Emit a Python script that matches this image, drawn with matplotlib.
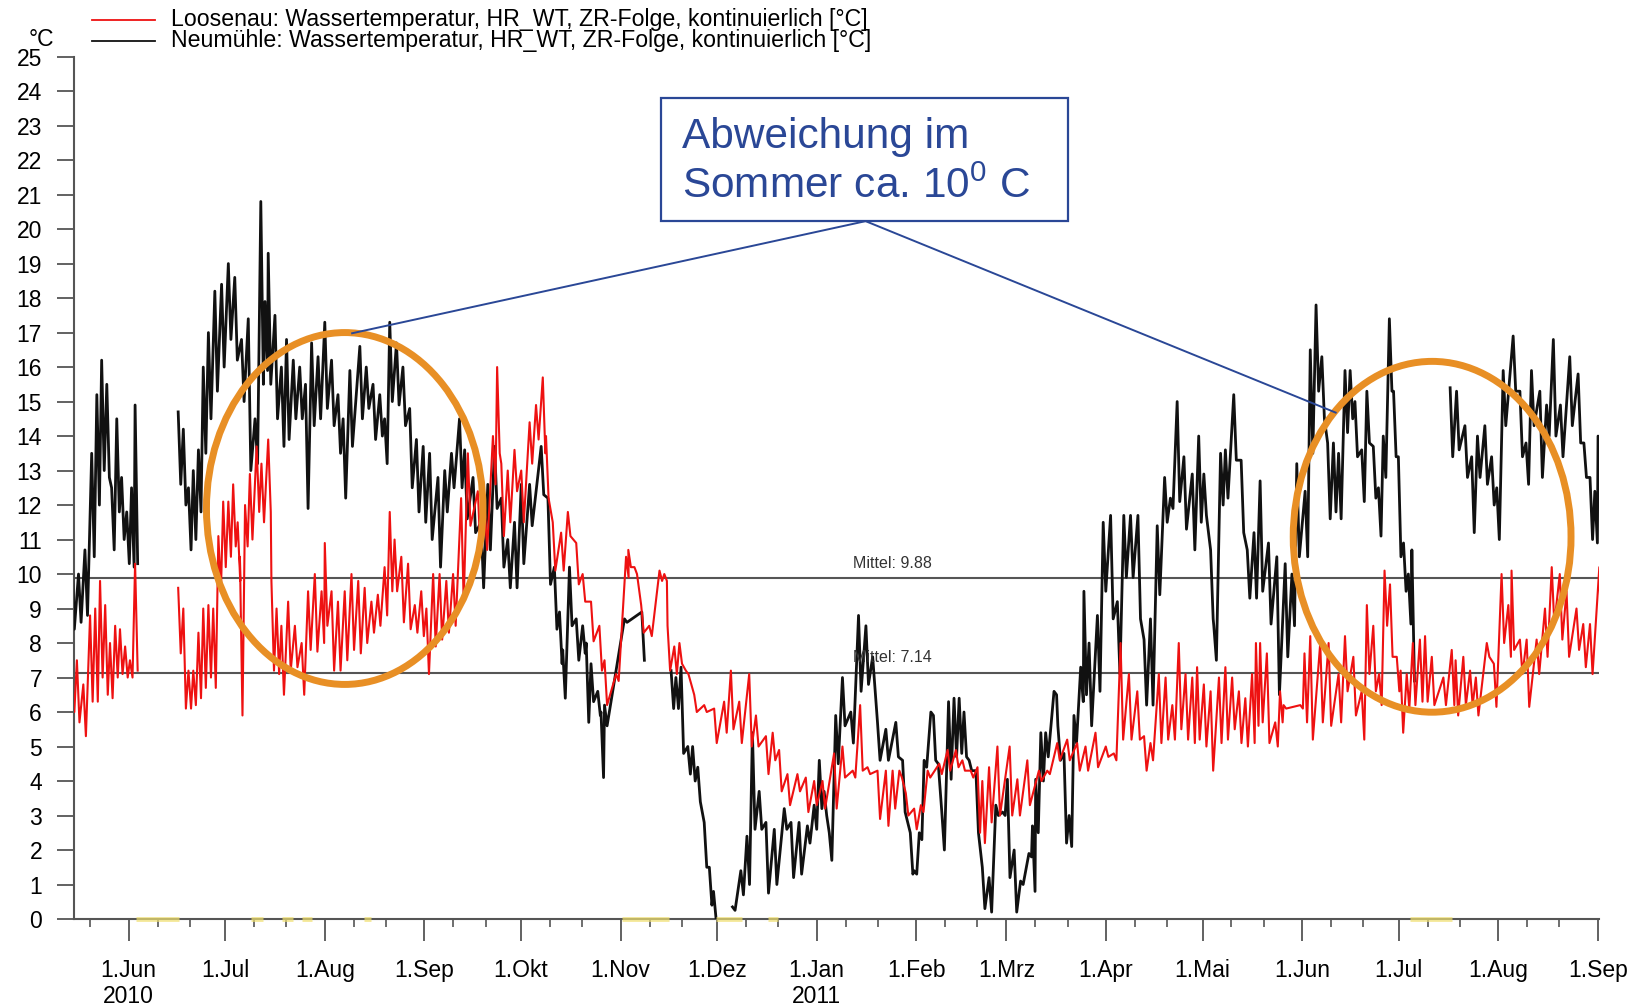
import numpy as np
import matplotlib
matplotlib.use("Agg")
import matplotlib.pyplot as plt
import matplotlib.dates as mdates
from matplotlib.patches import Ellipse, Rectangle
from matplotlib.lines import Line2D
import datetime as dt

plt.rcParams['font.family'] = ['Liberation Sans', 'DejaVu Sans']
plt.rcParams['mathtext.fontset'] = 'custom'
plt.rcParams['mathtext.rm'] = 'Liberation Sans'

NaN = float('nan')
BASE = dt.datetime(2010, 6, 1)          # day 0 of the day offsets below

# ---------------- data ----------------
# Neumühle (black): day offset from 1 Jun 2010, upper and lower value of the daily swing
neu_day = [-17.3, -15.2, -13.2, -11.1, -9.5, -8.0, -6.4, -4.9, -3.3, -1.8, -0.2, 1.3, 2.4, 9.0,
           15.8, 17.4, 19.0, 20.5, 22.1, 23.6, 25.2, 27.2, 29.3, 31.4, 33.4, 35.5, 37.6, 39.7,
           41.5, 42.8, 43.8, 45.9, 47.9, 49.5, 51.6, 53.6, 55.4, 57.3, 59.3, 61.4, 63.5, 65.5,
           67.1, 69.2, 72.3, 74.3, 76.4, 78.5, 80.0, 81.6, 83.7, 85.7, 87.8, 89.9, 92.0, 94.0,
           96.6, 98.7, 100.8, 103.3,
           104.9, 107.5, 110.0, 112.1, 114.2, 116.3, 118.3, 120.4, 122.5, 125.1, 128.7, 130.8,
           132.8, 134.4, 135.4, 137.5, 139.6, 141.6, 142.7, 144.2, 146.3, 147.3, 148.4, 154.6,
           160.0, 164.0,
           169.1, 170.6, 172.2, 174.3, 175.8, 177.4, 179.4, 181.0, 182.3, 185.0,
           188.2, 190.8, 192.7, 194.4, 196.5, 198.6, 201.2, 204.3, 206.4, 208.9, 211.5, 213.6,
           215.2, 216.7, 218.3, 220.3, 222.4,
           225.0, 227.4, 229.7, 231.8, 233.3, 235.9, 239.0, 241.1, 243.5, 244.7, 246.3, 247.8,
           249.9, 251.4, 253.3, 255.4, 257.1, 258.7, 260.2, 261.8, 263.9, 265.9, 268.0, 270.1,
           272.2, 273.7, 275.8, 277.8, 280.4, 281.5, 282.5, 284.1, 285.6, 288.2, 289.4, 291.3,
           292.9, 294.4, 296.5, 297.5, 299.1, 301.7, 303.5, 305.8, 307.9, 309.9, 312.0, 314.3,
           316.2, 318.2, 320.3, 322.6, 324.4, 326.5, 328.6, 331.2, 333.2, 334.8, 336.9, 337.9,
           340.0, 341.5, 344.1, 346.4, 348.3, 350.4,
           352.3, 354.9, 357.5, 360.1, 362.2, 363.7, 366.3, 367.9, 369.7, 371.5, 373.3, 375.1,
           376.7, 378.7, 380.3, 381.8, 383.9, 385.5, 387.5, 389.1, 390.6, 392.5, 393.8, 395.3,
           396.9, 398.4, 399.5, 405.0,
           411.4, 413.4, 416.0, 418.1, 419.9, 422.2, 424.3, 425.9, 427.9, 431.0, 433.1, 435.0,
           436.7, 439.3, 441.4, 443.5, 445.7, 448.6, 451.2, 453.0, 454.9, 456.4, 457.4]
neu_hi = [10.9, 10.0, 10.7, 13.5, 15.2, 16.2, 15.5, 12.5, 14.5, 12.8, 11.8, 12.5, 14.9, NaN,
          14.7, 14.2, 12.5, 13.0, 13.6, 16.0, 17.0, 18.2, 18.4, 19.0, 18.6, 16.8, 17.4, 14.5,
          20.8, 17.9, 19.3, 17.5, 16.0, 16.8, 16.2, 16.0, 15.5, 16.7, 16.3, 17.3, 16.2, 15.2,
          14.5, 15.9, 16.6, 16.0, 15.5, 15.2, 14.5, 17.3, 16.7, 16.0, 14.8, 13.9, 13.7, 13.5,
          12.8, 13.0, 13.5, 14.5,
          13.6, 12.8, 11.5, 12.6, 13.7, 12.2, 11.0, 11.5, 12.6, 12.6, 13.7, 12.2,
          10.2, 8.9, 7.8, 10.2, 8.7, 8.5, 8.0, 7.4, 6.6, 6.0, 6.2, 8.7,
          8.9, NaN,
          7.2, 7.0, 7.3, 5.0, 5.0, 4.4, 2.8, 1.5, 0.8, NaN,
          0.35, 1.4, 2.4, 5.4, 3.7, 2.8, 2.6, 3.2, 2.8, 2.8, 2.7, 3.3,
          4.6, 3.7, 2.5, 5.9, 7.0,
          6.0, 8.8, 8.5, 7.6, 5.7, 5.5, 5.7, 4.6, 2.5, 1.4, 2.5, 4.6,
          6.0, 4.6, 3.1, 6.3, 6.4, 6.4, 6.0, 4.6, 4.3, 1.5, 1.2, 3.3,
          3.1, 4.05, 2.0, 1.1, 1.9, 2.7, 4.05, 5.4, 5.4, 6.6, 5.6, 4.8,
          3.0, 5.9, 7.3, 9.5, 8.0, 8.8, 11.5, 11.7, 9.2, 11.7, 11.7, 11.7,
          8.1, 8.7, 11.4, 12.8, 12.2, 15.0, 13.4, 12.9, 14.0, 12.9, 10.7, 8.5,
          13.5, 13.6, 15.2, 13.3, 10.7, 11.2,
          12.7, 10.9, 10.5, 10.3, 10.0, 13.2, 12.4, 16.5, 17.8, 16.3, 13.8, 13.8,
          13.5, 15.9, 15.9, 15.0, 13.6, 15.3, 13.7, 12.5, 14.0, 17.4, 15.3, 13.4,
          10.9, 10.0, 10.7, NaN,
          15.4, 15.3, 14.3, 13.4, 14.0, 14.3, 13.4, 12.5, 15.9, 16.9, 15.3, 13.8,
          15.9, 15.3, 14.9, 16.8, 14.9, 16.3, 15.8, 13.8, 12.8, 12.4, 14.0]
neu_lo = [8.4, 8.6, 8.8, 10.5, 12.0, 13.0, 12.8, 10.7, 11.8, 11.0, 10.3, 10.2, 10.3, NaN,
          12.6, 12.0, 10.7, 11.0, 11.8, 13.5, 14.5, 15.3, 16.0, 16.8, 16.2, 15.0, 13.0, 13.2,
          15.5, 15.9, 15.5, 14.5, 13.7, 13.9, 14.5, 14.5, 11.9, 14.3, 14.5, 14.8, 14.3, 13.5,
          12.2, 13.7, 14.5, 14.8, 13.9, 14.0, 13.2, 15.0, 14.9, 14.3, 12.5, 11.8, 11.5, 11.0,
          10.2, 11.8, 12.5, 12.5,
          11.6, 11.2, 9.6, 10.7, 11.9, 10.2, 9.6, 9.6, 10.3, 11.4, 12.3, 9.7,
          8.4, 7.4, 6.4, 8.5, 7.5, 7.7, 5.7, 6.3, 5.9, 4.1, 5.6, 8.6,
          7.5, NaN,
          6.1, 6.1, 4.8, 4.2, 4.0, 3.4, 1.5, 0.4, 0.0, NaN,
          0.25, 0.7, 1.0, 2.6, 2.6, 0.75, 1.0, 2.6, 1.2, 1.3, 2.2, 2.6,
          3.2, 3.0, 1.7, 4.5, 5.6,
          5.1, 6.6, 6.8, 6.6, 4.6, 4.6, 4.7, 3.1, 1.3, 1.3, 2.3, 4.4,
          5.9, 4.5, 2.0, 4.05, 4.7, 4.8, 4.7, 4.3, 2.5, 0.3, 0.2, 3.0,
          3.0, 1.2, 0.2, 1.0, 1.8, 0.8, 2.5, 4.0, 4.7, 6.5, 4.6, 2.2,
          2.1, 5.1, 6.3, 6.5, 5.6, 6.6, 9.5, 8.7, 7.1, 9.9, 9.9, 8.7,
          6.2, 6.2, 9.4, 11.5, 11.9, 12.1, 11.3, 10.7, 11.5, 11.7, 8.7, 7.5,
          12.0, 12.2, 13.3, 11.2, 9.3, 9.3,
          9.5, 8.55, 6.5, 7.6, 8.5, 10.5, 10.5, 13.5, 15.3, 14.5, 11.6, 11.8,
          11.6, 14.1, 14.5, 13.4, 12.1, 13.8, 12.2, 11.1, 12.8, 15.3, 13.4, 10.5,
          9.5, 8.55, 6.9, NaN,
          13.4, 13.6, 12.8, 11.2, 12.8, 12.6, 12.0, 11.0, 14.3, 15.3, 13.4, 12.6,
          14.3, 12.8, 14.0, 14.0, 13.4, 14.3, 13.8, 12.8, 11.0, 10.9, 12.0]

# Loosenau (red)
loo_day = [-17.3, -15.7, -13.7, -11.6, -10.0, -8.5, -6.9, -5.4, -3.8, -2.3, -0.7, 0.8, 2.4, 9.0,
           15.8, 17.4, 19.0, 20.5, 22.1, 23.6, 25.2, 26.7, 28.3, 29.8, 31.4, 32.9, 34.3, 35.0,
           36.6, 38.1, 40.2, 41.7, 43.8, 44.8, 46.4, 47.9, 50.0, 52.1, 54.2, 56.2, 58.3, 60.4,
           61.4, 63.5, 65.5, 67.6, 69.7, 71.8, 73.8, 75.9, 77.9, 80.0, 81.6, 83.1, 85.2, 87.3,
           89.4, 91.4, 93.0, 95.1, 97.1, 99.2, 101.3,
           103.8, 105.9, 109.0, 111.1, 113.7, 115.0, 116.3, 118.3, 120.4, 122.5, 125.1, 127.1,
           129.2, 130.2, 132.3, 134.9, 137.0, 139.6, 141.6, 144.2, 146.8, 148.4, 152.0, 155.1,
           155.8, 157.7, 159.8, 162.3, 165.5, 167.0, 168.0, 170.1, 171.7, 173.7, 176.3, 179.4,
           182.5, 185.6, 187.7, 190.3, 193.4, 195.5, 198.6, 200.7, 202.7, 205.3, 208.4, 211.0,
           213.6, 216.2, 219.8, 222.4,
           225.6, 227.9, 230.2, 233.3, 235.9, 238.0, 240.1, 242.1, 244.7, 246.8, 248.9, 252.5,
           255.1, 257.7, 259.7, 262.3, 264.4, 265.9, 268.0, 270.6, 274.4, 276.8, 279.9, 283.5,
           286.1, 289.2, 292.3, 295.4, 298.0, 301.1, 304.3, 306.8, 308.9, 311.5, 314.1, 316.2,
           318.2, 320.8, 322.9, 325.0, 327.0, 329.1, 331.2, 332.7, 334.8, 336.9, 339.5, 341.5,
           343.6, 345.7, 347.7, 349.8, 351.0,
           352.3, 354.4, 357.0, 358.5, 359.6, 364.8, 366.1, 367.9, 371.0, 373.6, 376.7, 378.7,
           381.3, 383.9, 385.5, 387.5, 389.3, 391.0, 392.7, 394.8, 396.0, 397.9, 399.8, 402.0,
           403.6, 405.7, 409.3, 411.9, 413.1, 415.5, 417.6, 419.4, 422.8, 425.0, 427.4, 429.5,
           430.5, 433.1, 435.2, 438.3, 440.9, 443.0, 445.5, 447.6, 450.7, 452.8, 454.9, 457.8]
loo_hi = [7.1, 7.5, 6.8, 8.8, 9.0, 9.8, 9.1, 8.0, 8.5, 8.4, 7.9, 7.5, 10.3, NaN,
          9.6, 9.0, 7.2, 7.2, 8.3, 9.0, 9.1, 9.0, 11.1, 12.1, 12.1, 12.6, 11.5, 10.5,
          12.0, 12.9, 13.7, 13.2, 13.9, 9.8, 9.0, 8.5, 9.2, 8.5, 8.0, 9.5, 10.0, 9.5,
          10.9, 9.5, 9.2, 9.5, 10.0, 9.8, 9.6, 9.2, 9.4, 10.2, 11.8, 11.0, 10.5, 10.3,
          9.1, 9.5, 9.0, 10.0, 10.0, 9.8, 10.0,
          12.2, 13.5, 12.4, 12.0, 14.0, 16.0, 13.2, 13.0, 13.6, 13.0, 14.4, 14.9,
          15.7, 14.0, 11.5, 11.2, 11.8, 10.9, 10.0, 9.2, 8.5, 7.5, 7.1, 10.5,
          10.7, 10.2, 9.1, 8.5, 10.1, 10.0, 8.5, 7.9, 8.0, 7.2, 6.5, 6.2,
          6.1, 6.3, 7.2, 6.3, 7.1, 5.9, 5.3, 5.4, 4.9, 4.2, 4.2, 4.1,
          4.0, 4.0, 4.8, 5.0,
          4.3, 6.2, 4.4, 4.3, 4.3, 4.3, 4.3, 3.65, 3.2, 3.3, 4.3, 4.5,
          4.9, 4.9, 4.6, 4.3, 4.4, 4.0, 4.4, 5.0, 5.0, 4.05, 4.6, 4.3,
          4.3, 5.1, 5.2, 5.1, 5.0, 5.4, 5.0, 4.8, 8.0, 7.1, 6.6, 5.3,
          5.1, 7.1, 7.0, 6.2, 8.0, 7.1, 7.0, 7.3, 6.8, 6.6, 7.0, 7.3,
          7.0, 6.6, 6.4, 7.1, 8.0,
          8.0, 7.7, 5.7, 6.6, 6.2, 6.2, 7.7, 8.2, 8.0, 8.0, 7.1, 8.2,
          7.6, 6.6, 9.1, 8.5, 7.1, 10.1, 9.7, 7.6, 7.2, 7.1, 8.0, 8.1,
          8.2, 7.6, 7.0, 7.8, 7.5, 7.6, 7.2, 7.0, 8.0, 7.4, 10.0, 9.1,
          10.1, 8.1, 8.1, 8.1, 9.0, 10.2, 10.0, 9.5, 9.0, 8.55, 8.55, 10.2]
loo_lo = [6.0, 5.7, 5.3, 6.3, 6.3, 7.0, 6.5, 6.4, 7.0, 7.1, 7.0, 7.0, 7.2, NaN,
          7.7, 6.1, 6.1, 6.2, 6.4, 6.7, 7.0, 6.7, 9.5, 10.2, 10.5, 10.8, 9.8, 5.9,
          10.8, 11.0, 11.8, 11.5, 11.8, 7.2, 7.1, 6.5, 7.2, 7.3, 6.5, 7.8, 7.75, 8.0,
          8.5, 7.2, 7.2, 7.5, 7.8, 7.7, 8.0, 8.3, 8.5, 8.8, 9.5, 9.5, 8.6, 8.4,
          8.3, 8.2, 7.1, 7.9, 8.1, 8.3, 8.5,
          9.2, 11.4, 10.7, 10.7, 12.6, 13.5, 11.1, 11.5, 12.4, 11.5, 13.2, 13.9,
          13.5, 12.2, 10.1, 10.1, 11.1, 9.7, 9.2, 8.05, 7.2, 6.2, 6.9, 9.9,
          10.2, 10.0, 8.3, 8.2, 9.8, 9.8, 7.2, 7.1, 7.4, 7.1, 6.0, 6.0,
          5.1, 5.4, 5.5, 5.1, 5.0, 5.0, 4.2, 4.6, 3.7, 3.3, 3.7, 3.1,
          3.3, 3.2, 3.2, 4.1,
          4.1, 4.3, 4.2, 2.9, 2.7, 3.2, 4.1, 3.0, 2.6, 3.1, 4.1, 4.2,
          4.3, 4.4, 4.3, 4.1, 2.5, 2.2, 2.8, 3.0, 3.0, 3.0, 3.3, 4.0,
          4.2, 4.6, 4.6, 4.3, 4.3, 4.4, 4.7, 4.6, 5.2, 5.2, 5.2, 4.3,
          4.6, 5.1, 5.2, 5.2, 5.5, 5.2, 5.1, 5.2, 5.0, 4.3, 5.1, 5.2,
          5.5, 5.1, 5.0, 5.1, 5.6,
          5.7, 5.1, 5.0, 5.7, 6.1, 6.1, 5.7, 5.2, 5.7, 5.6, 5.7, 6.6,
          5.9, 5.2, 7.1, 6.6, 6.2, 8.5, 7.6, 6.6, 5.4, 6.1, 6.2, 6.3,
          6.3, 6.2, 6.2, 6.2, 5.9, 6.2, 6.2, 5.9, 7.6, 6.15, 8.0, 7.6,
          7.8, 7.1, 6.15, 7.1, 7.6, 8.55, 8.1, 7.6, 7.8, 7.3, 7.1, 7.3]

# long-term means
mean_neu = 9.88
mean_loo = 7.14

# yellow gap markers on the time axis (day offsets from 1 Jun 2010)
gap_start = [2.4, 38.1, 47.8, 54.0, 73.3, 153.5, 182.7, 198.8, 398.5]
gap_end = [15.8, 41.7, 51.0, 57.0, 75.5, 168.0, 190.7, 202.0, 411.5]

# axis labels
month_names = ['Jun', 'Jul', 'Aug', 'Sep', 'Okt', 'Nov', 'Dez', 'Jan', 'Feb', 'Mrz',
               'Apr', 'Mai', 'Jun', 'Jul', 'Aug', 'Sep']
year_labels = {0: '2010', 7: '2011'}
y_ticks = list(range(0, 26))

legend_labels = ['Loosenau: Wassertemperatur, HR_WT, ZR-Folge, kontinuierlich [°C]',
                 'Neumühle: Wassertemperatur, HR_WT, ZR-Folge, kontinuierlich [°C]']

# ---------------- figure ----------------
W, H = 1643, 1006
fig = plt.figure(figsize=(W / 100, H / 100), dpi=100)
fig.patch.set_facecolor('white')
ax = fig.add_axes([74 / W, 1 - 919 / H, (1599 - 74) / W, (919 - 56.6) / H])

b0 = mdates.date2num(BASE)


def zigzag(days, hi, lo):
    xs, ys = [], []
    for d, h, l in zip(days, hi, lo):
        xs += [d - 0.4, d + 0.4]
        ys += [h, l]
    return b0 + np.array(xs), np.array(ys)


xn, yn = zigzag(neu_day, neu_hi, neu_lo)
xl, yl = zigzag(loo_day, loo_hi, loo_lo)
ax.plot(xn, yn, color='#111111', lw=2.0, zorder=3)
ax.plot(xl, yl, color='#ee1111', lw=1.5, zorder=4)

x0 = mdates.date2num(dt.datetime(2010, 5, 15))
x1 = mdates.date2num(dt.datetime(2011, 9, 1)) + 0.3
ax.set_xlim(x0, x1)
ax.set_ylim(0, 25)

# mean lines
for m in (mean_neu, mean_loo):
    ax.axhline(m, color='#555555', lw=1.5, zorder=2)
lab_x = b0 + 225.2
ax.text(lab_x, mean_neu + 0.22, f'Mittel: {mean_neu:.2f}', fontsize=11.5, color='#333333',
        va='bottom', ha='left', zorder=5)
ax.text(lab_x, mean_loo + 0.22, f'Mittel: {mean_loo:.2f}', fontsize=11.5, color='#333333',
        va='bottom', ha='left', zorder=5)

# gap markers
for s, e in zip(gap_start, gap_end):
    ax.plot([b0 + s, b0 + e], [0, 0], color='#f0e070', lw=3.5, solid_capstyle='butt',
            clip_on=False, zorder=6, alpha=0.7)

# spines and ticks
for sp in ('top', 'right'):
    ax.spines[sp].set_visible(False)
for sp in ('left', 'bottom'):
    ax.spines[sp].set_color('#555555')
    ax.spines[sp].set_linewidth(1.5)

ax.set_yticks(y_ticks)
ax.set_yticklabels([str(v) for v in y_ticks])
ax.tick_params(axis='y', direction='out', length=12, width=1.3, pad=11, labelsize=16.5,
               colors='#555555', labelcolor='black')

month_ticks = mdates.MonthLocator().tick_values(dt.datetime(2010, 5, 20), dt.datetime(2011, 9, 1))
labels = []
for i, nm in enumerate(month_names):
    lab = '1.' + nm
    if i in year_labels:
        lab += '\n' + year_labels[i]
    labels.append(lab)
ax.set_xticks(month_ticks)
ax.set_xticklabels(labels)
ax.xaxis.set_minor_locator(mdates.DayLocator(bymonthday=[10, 20]))
ax.tick_params(axis='x', which='major', direction='out', length=15.6, width=1.3, pad=13,
               labelsize=16.5, colors='#555555', labelcolor='black')
ax.tick_params(axis='x', which='minor', direction='out', length=5.5, width=1.2, colors='#555555')
for t in ax.get_xticklabels():
    t.set_linespacing(1.2)

# unit label
fig.text(41 / W, 1 - 40 / H, '°C', fontsize=16.5, ha='center', va='center')

# legend (drawn in figure pixels)
for i, (lab, col) in enumerate(zip(legend_labels, ['#ee1111', '#111111'])):
    yy = 1 - (19.5 + 21.5 * i) / H
    fig.add_artist(Line2D([92 / W, 155 / W], [yy, yy], color=col, lw=1.3,
                          transform=fig.transFigure))
    fig.text(171 / W, yy, lab, fontsize=16.65, ha='left', va='center')

# orange ellipses
orange = '#e88f25'
ax.add_patch(Ellipse((b0 + 67.2, 11.9), 86.0, 10.2, fill=False, ec=orange, lw=5, zorder=7))
ax.add_patch(Ellipse((b0 + 405.4, 11.08), 86.4, 10.17, fill=False, ec=orange, lw=5, zorder=7))

# callout box
blue = '#2a4796'
ax.plot([b0 + 69.5, b0 + 229.2, b0 + 375.4], [16.98, 20.23, 14.68], color=blue, lw=1.4, zorder=8)
ax.add_patch(Rectangle((b0 + 165.6, 20.23), 126.7, 3.57, fc='white', ec=blue, lw=1.6, zorder=9))
ax.text(b0 + 172.1, 22.34, 'Abweichung im', fontsize=30.5, color=blue, va='baseline', ha='left',
        zorder=10)
ax.text(b0 + 172.1, 20.89, r'Sommer ca. 10$^\mathregular{0}$ C', fontsize=30.5, color=blue,
        va='baseline', ha='left', zorder=10)

fig.savefig('out.png', dpi=100, facecolor='white')
